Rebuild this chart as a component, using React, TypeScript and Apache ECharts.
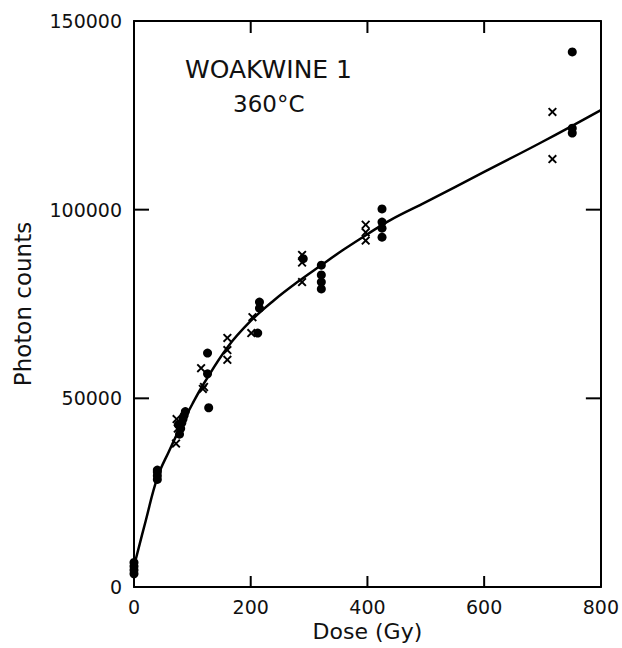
import React, { useEffect, useRef } from "react";
import * as echarts from "echarts";

// Axis ranges and tick values
const xMin = 0, xMax = 800, xStep = 200;
const yMin = 0, yMax = 150000, yStep = 50000;
const xInnerTicks = [200, 400, 600];
const yInnerTicks = [50000, 100000];

// Measured points: filled circles (dose Gy, photon counts)
const dotPoints: [number, number][] = [
  [0, 3500], [0, 4500], [0, 5500], [0, 6500],
  [40, 28500], [40, 29500], [40, 30500], [40, 31000],
  [78, 40500], [80, 42000], [82, 43500], [84, 44500], [86, 45500], [88, 46500], [76, 43000],
  [126, 62000], [126, 56500], [128, 47500],
  [212, 67300],
  [215, 73900], [215, 75500],
  [290, 87000],
  [321, 85300], [321, 82700], [321, 80800], [321, 79000],
  [425, 100200], [425, 96700], [425, 95100], [425, 92700],
  [751, 141800], [751, 121600], [751, 120300],
];

// Measured points: crosses
const crossPoints: [number, number][] = [
  [72, 38000], [73, 44500], [75, 42000],
  [115, 58000], [118, 52500], [120, 53000],
  [160, 66000], [160, 62800], [160, 60200],
  [201, 67300], [203, 71500],
  [288, 88000], [288, 86000], [288, 80800],
  [397, 96000], [397, 94000], [397, 91800],
  [717, 125900], [717, 113400],
];

// Fitted growth curve
const curvePoints: [number, number][] = [
  [0, 5500], [20, 17500], [40, 29000], [60, 36000], [80, 42500], [100, 48500],
  [120, 54000], [160, 63500], [200, 70500], [240, 76000], [280, 80800],
  [320, 85200], [360, 89500], [400, 93500], [440, 97300], [500, 102000],
  [600, 110000], [700, 118000], [800, 126400],
];

const FONT = "DejaVu Sans";
const CROSS =
  "path://M0,1.5L1.5,0L5,3.5L8.5,0L10,1.5L6.5,5L10,8.5L8.5,10L5,6.5L1.5,10L0,8.5L3.5,5Z";

export default function App() {
  const ref = useRef<HTMLDivElement>(null);
  useEffect(() => {
    if (!ref.current) return;
    const chart = echarts.init(ref.current, null, { renderer: "svg" });
    const axisLine = { show: true, onZero: false, lineStyle: { color: "#000", width: 2 } };
    const tickLine = { stroke: "#000", lineWidth: 2 };
    const plain = (v: number) => String(v);
    const xBase = { type: "value", min: xMin, max: xMax, interval: xStep, splitLine: { show: false }, axisTick: { show: false } };
    const yBase = { type: "value", min: yMin, max: yMax, interval: yStep, splitLine: { show: false }, axisTick: { show: false } };
    chart.setOption({
      animation: false,
      backgroundColor: "#fff",
      grid: { left: 134, right: 19, top: 21, bottom: 61 },
      xAxis: [
        {
          ...xBase,
          position: "bottom",
          name: "Dose (Gy)",
          nameLocation: "middle",
          nameGap: 26,
          nameTextStyle: { fontFamily: FONT, fontSize: 22, color: "#111" },
          axisLine,
          axisLabel: { fontFamily: FONT, fontSize: 19, color: "#111", margin: 10, formatter: plain },
        },
        { ...xBase, position: "top", axisLine, axisLabel: { show: false } },
      ],
      yAxis: [
        {
          ...yBase,
          position: "left",
          name: "Photon counts",
          nameLocation: "middle",
          nameGap: 100,
          nameTextStyle: { fontFamily: FONT, fontSize: 23, color: "#111" },
          axisLine,
          axisLabel: { fontFamily: FONT, fontSize: 19, color: "#111", margin: 12, formatter: plain },
        },
        { ...yBase, position: "right", axisLine, axisLabel: { show: false } },
      ],
      graphic: [
        {
          type: "text",
          left: 185,
          top: 57,
          style: { text: "WOAKWINE 1", fontFamily: FONT, fontSize: 25, fill: "#111" },
        },
        {
          type: "text",
          left: 233,
          top: 92,
          style: { text: "360°C", fontFamily: FONT, fontSize: 23, fill: "#111" },
        },
      ],
      series: [
        {
          type: "line",
          data: curvePoints,
          smooth: 0.4,
          symbol: "none",
          lineStyle: { color: "#000", width: 2.5 },
          z: 1,
        },
        {
          type: "scatter",
          data: dotPoints,
          symbol: "circle",
          symbolSize: 9,
          itemStyle: { color: "#000", opacity: 1 },
          clip: false,
          z: 3,
        },
        {
          type: "scatter",
          data: crossPoints,
          symbol: CROSS,
          symbolSize: 9,
          itemStyle: { color: "#000", opacity: 1 },
          clip: false,
          z: 3,
        },
        // inward ticks on bottom and top frame
        {
          type: "custom",
          data: xInnerTicks.map((v) => [v, yMin]),
          clip: false,
          silent: true,
          z: 4,
          renderItem: (_p: any, api: any) => {
            const v = api.value(0);
            const b = api.coord([v, yMin]);
            const t = api.coord([v, yMax]);
            return {
              type: "group",
              children: [
                { type: "line", shape: { x1: b[0], y1: b[1], x2: b[0], y2: b[1] - 11 }, style: tickLine },
                { type: "line", shape: { x1: t[0], y1: t[1], x2: t[0], y2: t[1] + 12 }, style: tickLine },
              ],
            };
          },
        },
        // inward ticks on left and right frame
        {
          type: "custom",
          data: yInnerTicks.map((v) => [xMin, v]),
          clip: false,
          silent: true,
          z: 4,
          renderItem: (_p: any, api: any) => {
            const v = api.value(1);
            const l = api.coord([xMin, v]);
            const r = api.coord([xMax, v]);
            return {
              type: "group",
              children: [
                { type: "line", shape: { x1: l[0], y1: l[1], x2: l[0] + 15, y2: l[1] }, style: tickLine },
                { type: "line", shape: { x1: r[0], y1: r[1], x2: r[0] - 15, y2: r[1] }, style: tickLine },
              ],
            };
          },
        },
      ],
    });
    return () => chart.dispose();
  }, []);
  return (
    <div
      ref={ref}
      style={{ position: "absolute", left: 0, top: 0, width: 622, height: 648 }}
    />
  );
}
